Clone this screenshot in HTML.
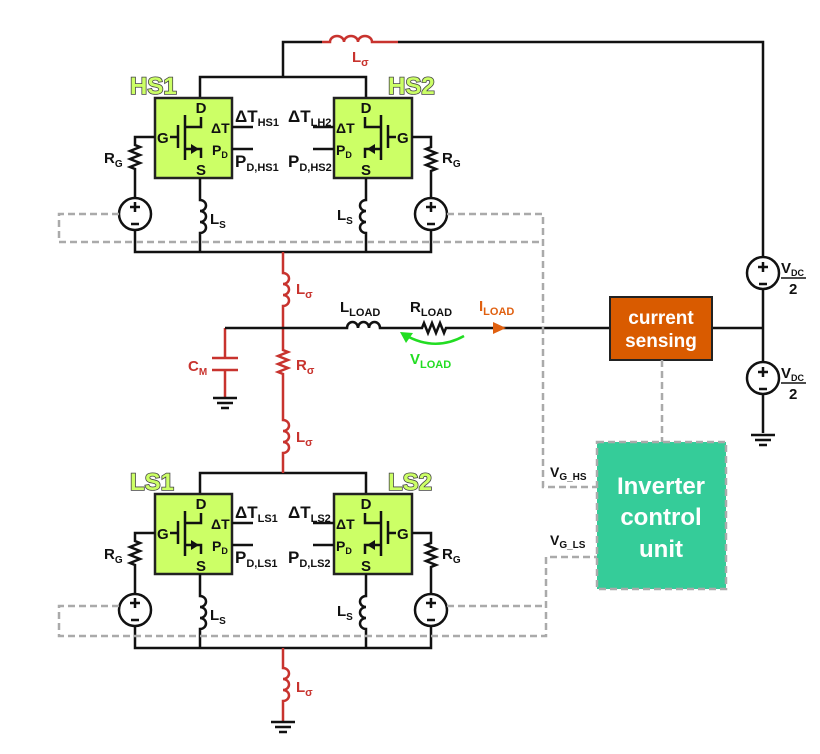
<!DOCTYPE html>
<html><head><meta charset="utf-8"><style>
html,body{margin:0;padding:0;background:#fff;}
svg{display:block;font-family:"Liberation Sans",Arial,sans-serif;font-weight:bold;}
</style></head><body>
<svg width="820" height="754" viewBox="0 0 820 754" xmlns="http://www.w3.org/2000/svg">
<defs>
<g id="mod">
  <path d="M200,98 V77 H366 V98" fill="none" stroke="#111" stroke-width="2.5"/>
  <rect x="155" y="98" width="77" height="80" fill="#ccff66" stroke="#222" stroke-width="2.5"/>
  <rect x="334" y="98" width="78" height="80" fill="#ccff66" stroke="#222" stroke-width="2.5"/>
  <path d="M155,137 H135 V145 l5,2 l-10,4 l10,4 l-10,4 l10,4 l-10,4 l5,2 V198 M135,230 V252 H431 V230 M431,198 V171 l5,-2 l-10,-4 l10,-4 l-10,-4 l10,-4 l-10,-4 l5,-2 V137 H412" fill="none" stroke="#111" stroke-width="2.5"/>
  <circle cx="135" cy="214" r="16" fill="#fff" stroke="#111" stroke-width="2.5"/>
  <circle cx="431" cy="214" r="16" fill="#fff" stroke="#111" stroke-width="2.5"/>
  <path d="M130,207 h10 M135,202 v10 M131,224 h8 M426,207 h10 M431,202 v10 M427,224 h8" stroke="#111" stroke-width="2.5"/>
  <path d="M200,178 V200 a6,5.5 0 1 1 0,11 a6,5.5 0 1 1 0,11 a6,5.5 0 1 1 0,11 V252" fill="none" stroke="#111" stroke-width="2.5"/>
  <path d="M366,178 V200 a6,5.5 0 1 0 0,11 a6,5.5 0 1 0 0,11 a6,5.5 0 1 0 0,11 V252" fill="none" stroke="#111" stroke-width="2.5"/>
  <path d="M232,127 H253 M232,149 H253 M313,127 H334 M313,149 H334" stroke="#111" stroke-width="2.5"/>
  <path d="M170,137 H178 M178,125 V148 M185,115 V160 M185,127 H201 V117 M185,149 H201 V158" fill="none" stroke="#111" stroke-width="2.5"/>
  <path d="M191,144 L199,149 L191,154 Z" fill="#111"/>
  <path d="M396,137 H388 M388,125 V148 M381,115 V160 M381,127 H365 V117 M381,149 H365 V158" fill="none" stroke="#111" stroke-width="2.5"/>
  <path d="M367,149 L375,144 L375,154 Z" fill="#111"/>
  <g font-size="15" fill="#111">
    <text x="201" y="113" text-anchor="middle">D</text>
    <text x="201" y="175" text-anchor="middle">S</text>
    <text x="157" y="143">G</text>
    <text x="211" y="133" font-size="14">ΔT</text>
    <text x="212" y="155" font-size="14">P<tspan font-size="9" dy="3">D</tspan></text>
    <text x="366" y="113" text-anchor="middle">D</text>
    <text x="366" y="175" text-anchor="middle">S</text>
    <text x="397" y="143">G</text>
    <text x="336" y="133" font-size="14">ΔT</text>
    <text x="336" y="155" font-size="14">P<tspan font-size="9" dy="3">D</tspan></text>
    <text x="104" y="163" font-size="15">R<tspan font-size="10" dy="4">G</tspan></text>
    <text x="442" y="163" font-size="15">R<tspan font-size="10" dy="4">G</tspan></text>
    <text x="210" y="224" font-size="15">L<tspan font-size="10" dy="4">S</tspan></text>
    <text x="337" y="220" font-size="15">L<tspan font-size="10" dy="4">S</tspan></text>
  </g>
</g>
<g id="gnd"><path d="M-12,0 H12 M-8,5 H8 M-4,10 H4" stroke="#111" stroke-width="2.5"/></g>
</defs>

<path d="M283,77 V42 H322" fill="none" stroke="#111" stroke-width="2.5"/>
<path d="M322,42 H330 a7,6 0 1 1 14,0 a7,6 0 1 1 14,0 a7,6 0 1 1 14,0 H398" fill="none" stroke="#c8332e" stroke-width="2.5"/>
<path d="M398,42 H763 V257" fill="none" stroke="#111" stroke-width="2.5"/>
<text x="352" y="62" font-size="15" fill="#c8332e">L<tspan font-size="11" dy="4">σ</tspan></text>

<use href="#mod"/>
<use href="#mod" transform="translate(0,396)"/>

<g font-size="24" fill="#ccff66" stroke="#444" stroke-width="1.6" paint-order="stroke">
<text x="130" y="94">HS1</text><text x="388" y="94">HS2</text>
<text x="130" y="490">LS1</text><text x="388" y="490">LS2</text>
</g>
<g fill="#111">
<text x="235" y="122" font-size="17">ΔT<tspan font-size="11" dy="4">HS1</tspan></text>
<text x="235" y="167" font-size="17">P<tspan font-size="11" dy="4">D,HS1</tspan></text>
<text x="288" y="122" font-size="17">ΔT<tspan font-size="11" dy="4">LH2</tspan></text>
<text x="288" y="167" font-size="17">P<tspan font-size="11" dy="4">D,HS2</tspan></text>
<text x="235" y="518" font-size="17">ΔT<tspan font-size="11" dy="4">LS1</tspan></text>
<text x="235" y="563" font-size="17">P<tspan font-size="11" dy="4">D,LS1</tspan></text>
<text x="288" y="518" font-size="17">ΔT<tspan font-size="11" dy="4">LS2</tspan></text>
<text x="288" y="563" font-size="17">P<tspan font-size="11" dy="4">D,LS2</tspan></text>
</g>

<path d="M283,252 V273 a6,5.5 0 1 1 0,11 a6,5.5 0 1 1 0,11 a6,5.5 0 1 1 0,11 V350 l5,2 l-10,4 l10,4 l-10,4 l10,4 l-10,4 l5,2 V420 a6,5.5 0 1 1 0,11 a6,5.5 0 1 1 0,11 a6,5.5 0 1 1 0,11 V473" fill="none" stroke="#c8332e" stroke-width="2.5"/>
<path d="M283,648 V668 a6,5.5 0 1 1 0,11 a6,5.5 0 1 1 0,11 a6,5.5 0 1 1 0,11 V722" fill="none" stroke="#c8332e" stroke-width="2.5"/>
<use href="#gnd" transform="translate(283,722)"/>
<g font-size="15" fill="#c8332e">
<text x="296" y="294">L<tspan font-size="11" dy="4">σ</tspan></text>
<text x="296" y="370">R<tspan font-size="11" dy="4">σ</tspan></text>
<text x="296" y="442">L<tspan font-size="11" dy="4">σ</tspan></text>
<text x="296" y="692">L<tspan font-size="11" dy="4">σ</tspan></text>
<text x="188" y="371">C<tspan font-size="10" dy="4">M</tspan></text>
</g>
<path d="M225,328 V358 M212,358 H238 M212,370 H238 M225,370 V398" fill="none" stroke="#c8332e" stroke-width="2.5"/>
<use href="#gnd" transform="translate(225,398)"/>

<path d="M225,328 H347 a5.5,6 0 1 1 11,0 a5.5,6 0 1 1 11,0 a5.5,6 0 1 1 11,0 H422 l2,-5 l4,10 l4,-10 l4,10 l4,-10 l4,10 l2,-5 H610 M712,328 H763" fill="none" stroke="#111" stroke-width="2.5"/>
<path d="M493,322 L506,328 L493,334 Z" fill="#e06010"/>
<path d="M464,336 Q435,352 405,335" fill="none" stroke="#22dd22" stroke-width="2.5"/>
<path d="M400,332 L413,333 L406,343 Z" fill="#22dd22"/>
<text x="340" y="312" font-size="15" fill="#111">L<tspan font-size="11" dy="4">LOAD</tspan></text>
<text x="410" y="312" font-size="15" fill="#111">R<tspan font-size="11" dy="4">LOAD</tspan></text>
<text x="479" y="311" font-size="15" fill="#e06010">I<tspan font-size="11" dy="4">LOAD</tspan></text>
<text x="410" y="364" font-size="15" fill="#22dd22">V<tspan font-size="11" dy="4">LOAD</tspan></text>

<rect x="610" y="297" width="102" height="63" fill="#d95b00" stroke="#222" stroke-width="2"/>
<text x="661" y="324" font-size="19" fill="#fff" text-anchor="middle">current</text>
<text x="661" y="347" font-size="19" fill="#fff" text-anchor="middle">sensing</text>

<path d="M763,289 V362 M763,394 V433" stroke="#111" stroke-width="2.5"/>
<circle cx="763" cy="273" r="16" fill="#fff" stroke="#111" stroke-width="2.5"/>
<circle cx="763" cy="378" r="16" fill="#fff" stroke="#111" stroke-width="2.5"/>
<path d="M758,267 h10 M763,262 v10 M759,284 h8 M758,372 h10 M763,367 v10 M759,389 h8" stroke="#111" stroke-width="2.5"/>
<use href="#gnd" transform="translate(763,435)"/>
<g fill="#111">
<text x="781" y="273" font-size="15">V<tspan font-size="9" dy="3">DC</tspan></text>
<path d="M781,278 H806 M781,383 H806" stroke="#111" stroke-width="1.5"/>
<text x="789" y="294" font-size="15">2</text>
<text x="781" y="378" font-size="15">V<tspan font-size="9" dy="3">DC</tspan></text>
<text x="789" y="399" font-size="15">2</text>
</g>

<g fill="none" stroke="#aaa" stroke-width="2.5" stroke-dasharray="7,4">
<path d="M119,214 H59 V242 H543"/>
<path d="M447,214 H543 V487 H597"/>
<path d="M119,606 H59 V636 H546 V557 H597"/>
<path d="M447,606 H546"/>
<path d="M662,360 V442"/>
</g>

<rect x="597" y="442" width="129" height="147" fill="#35cc99" stroke="#aaa" stroke-width="2.5" stroke-dasharray="7,4"/>
<text x="661" y="494" font-size="24" fill="#fff" text-anchor="middle">Inverter</text>
<text x="661" y="525" font-size="24" fill="#fff" text-anchor="middle">control</text>
<text x="661" y="557" font-size="24" fill="#fff" text-anchor="middle">unit</text>
<text x="550" y="477" font-size="14" fill="#111">V<tspan font-size="10" dy="3">G_HS</tspan></text>
<text x="550" y="545" font-size="14" fill="#111">V<tspan font-size="10" dy="3">G_LS</tspan></text>
</svg>
</body></html>
